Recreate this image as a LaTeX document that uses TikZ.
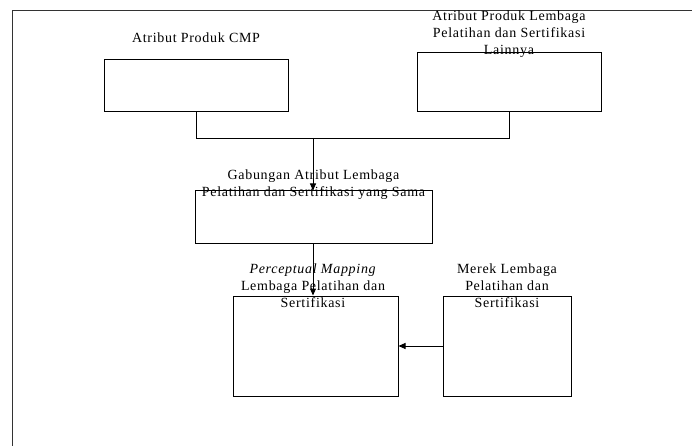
\documentclass[tikz,border=0pt]{standalone}
\usepackage{fontspec}
\setmainfont{Liberation Serif}[LetterSpace=5.0]
\usetikzlibrary{arrows.meta}
\begin{document}
\begin{tikzpicture}[x=1pt,y=-1pt,
  boxstyle/.style={draw=black, line width=1pt, inner sep=0pt},
  lbl/.style={align=center, inner sep=0pt, font=\fontsize{14}{17}\selectfont},
  conn/.style={draw=black, line width=1pt},
  arr/.style={conn, -{Triangle[length=7pt,width=6pt]}}]
\useasboundingbox (0,0) rectangle (692,446);
% frame
\draw[line width=1pt, black!80] (692,11) -- (12,11) -- (12,446);
% boxes
\node[boxstyle, minimum width=184pt, minimum height=52pt] (b1) at (196,86) {};
\node[boxstyle, minimum width=184pt, minimum height=59pt] (b2) at (509,82.5) {};
\node[boxstyle, minimum width=237pt, minimum height=52pt] (b3) at (313.5,217) {};
\node[boxstyle, minimum width=165pt, minimum height=100pt] (b4) at (315.5,346) {};
\node[boxstyle, minimum width=128pt, minimum height=100pt] (b5) at (507,346) {};
% labels
\node[lbl] (l1) at (196,38) {Atribut Produk CMP};
\node[lbl] (l2) at (509,34) {Atribut Produk Lembaga\\Pelatihan dan Sertifikasi\\Lainnya};
\node[lbl] (l3) at (313.5,185) {Gabungan Atribut Lembaga\\Pelatihan dan Sertifikasi yang Sama};
\node[lbl] (l4) at (313,286) {\textit{Perceptual Mapping}\\Lembaga Pelatihan dan\\Sertifikasi};
\node[lbl] (l5) at (507,286) {Merek Lembaga\\Pelatihan dan\\Sertifikasi};
% connectors
\coordinate (j) at (313,138);
\draw[conn] (b1.south) -- ++(0,26) -| (b2.south);
\draw[arr] (j) -- (j |- b3.north);
\draw[arr] (j |- b3.south) -- (j |- b4.north);
\draw[arr] (b5.west) -- (b4.east);
\end{tikzpicture}
\end{document}
